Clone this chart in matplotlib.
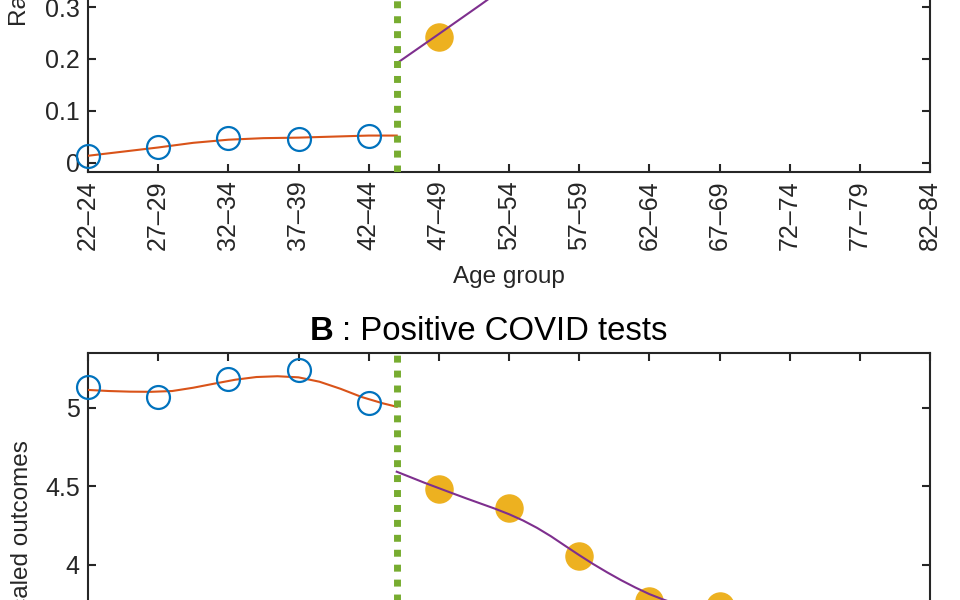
import numpy as np
import matplotlib
matplotlib.use('Agg')
import matplotlib.pyplot as plt

plt.rcParams['font.family'] = ['Liberation Sans', 'DejaVu Sans']

# age groups (tick positions = midpoints)
age_labels = ['22–24', '27–29', '32–34', '37–39', '42–44', '47–49', '52–54',
              '57–59', '62–64', '67–69', '72–74', '77–79', '82–84']
age_mid = [23, 28, 33, 38, 43, 48, 53, 58, 63, 68, 73, 78, 83]
cutoff = 45

# panel A (top)
a_below_x = [23, 28, 33, 38, 43]
a_below_y = [0.013, 0.030, 0.048, 0.045, 0.052]
a_above_x = [48]
a_above_y = [0.243]
a_fit_below_x = [23, 25.5, 28, 30.5, 33, 35.5, 38, 40.5, 43, 45]
a_fit_below_y = [0.013, 0.021, 0.029, 0.038, 0.044, 0.047, 0.048, 0.050, 0.052, 0.052]
a_fit_above_x = [45, 48, 51, 55]
a_fit_above_y = [0.1915, 0.248, 0.305, 0.383]

# panel B (bottom)
b_below_x = [23, 28, 33, 38, 43]
b_below_y = [5.130, 5.070, 5.182, 5.240, 5.032]
b_above_x = [48, 53, 58, 63, 68]
b_above_y = [4.481, 4.360, 4.057, 3.77, 3.74]
b_fit_below_x = [23, 24.5, 26, 27.5, 29, 30.5, 32, 33.5, 35, 36.5, 38, 39.5, 41, 42.5, 44, 45]
b_fit_below_y = [5.113, 5.106, 5.102, 5.101, 5.106, 5.127, 5.153, 5.178, 5.195, 5.200,
                 5.193, 5.165, 5.120, 5.068, 5.028, 5.006]
b_fit_above_x = [45, 47, 49, 50, 51, 52, 53, 54, 55, 56, 57, 58, 59, 60, 61, 62, 63, 64, 65, 68]
b_fit_above_y = [4.593, 4.522, 4.455, 4.422, 4.39, 4.358, 4.323, 4.283, 4.236, 4.182,
                 4.122, 4.063, 4.006, 3.953, 3.903, 3.857, 3.815, 3.78, 3.75, 3.69]

blue = '#0072BD'
orange = '#D95319'
yellow = '#EDB120'
purple = '#7E2F8E'
green = '#77AC30'
axcol = '#262626'

W, H = 960, 600
fig = plt.figure(figsize=(9.6, 6), dpi=100)


def px_axes(left, right, top, bottom):
    return [left / W, 1 - bottom / H, (right - left) / W, (bottom - top) / H]


def style(ax):
    for s in ax.spines.values():
        s.set_linewidth(1.5)
        s.set_color(axcol)
    ax.tick_params(direction='in', length=6, width=1.5, colors=axcol,
                   labelsize=18, top=True, right=True, pad=6)
    ax.set_xlim(23, 83)
    ax.set_xticks(age_mid)


def draw(ax, bx, by, ax_, ay, fbx, fby, fax, fay):
    ax.plot(fbx, fby, color=orange, lw=1.5, zorder=3)
    ax.plot(bx, by, 'o', ms=16.5, mfc='none', mec=blue, mew=1.6,
            clip_on=False, zorder=4)
    ax.plot(ax_, ay, 'o', ms=19.5, mfc=yellow, mec=yellow, clip_on=False, zorder=2)
    ax.plot(fax, fay, color=purple, lw=1.5, zorder=3)
    ax.axvline(cutoff, color=green, lw=5, linestyle=(0, (1, 1.15)),
               dash_capstyle='butt', zorder=5)


# top panel: 0 at y=162.5 px, 518 px per unit
ax1 = fig.add_axes(px_axes(88, 930, 162.5 - 0.4 * 518, 172))
style(ax1)
ax1.set_ylim(-(172 - 162.5) / 518, 0.4)
ax1.set_yticks([0, 0.1, 0.2, 0.3])
ax1.set_yticklabels(['0', '0.1', '0.2', '0.3'])
ax1.set_xticklabels(age_labels, rotation=90)
draw(ax1, a_below_x, a_below_y, a_above_x, a_above_y,
     a_fit_below_x, a_fit_below_y, a_fit_above_x, a_fit_above_y)

# bottom panel: 5 at y=407.7 px, 157.3 px per unit (lower part lies below the crop)
ax2 = fig.add_axes(px_axes(88, 930, 352.7, 407.7 + 1.5 * 157.3))
style(ax2)
ax2.set_ylim(3.5, 5 + (407.7 - 352.7) / 157.3)
ax2.set_yticks([4, 4.5, 5])
ax2.set_yticklabels(['4', '4.5', '5'])
ax2.tick_params(labelbottom=False)
draw(ax2, b_below_x, b_below_y, b_above_x, b_above_y,
     b_fit_below_x, b_fit_below_y, b_fit_above_x, b_fit_above_y)

# labels
fig.text(509 / W, 1 - 283 / H, 'Age group', ha='center', va='baseline',
         fontsize=17.5, color=axcol)
fig.text(20 / W, 1 - 26 / H, 'Raw outcomes', rotation=90, ha='center',
         va='bottom', fontsize=17.5, color=axcol)
fig.text(22 / W, 1 - 440 / H, 'Scaled outcomes', rotation=90, ha='center',
         va='top', fontsize=17.5, color=axcol)
fig.text(310 / W, 1 - 340 / H, 'B', fontsize=23.7, weight='bold',
         ha='left', va='baseline', color='black')
fig.text(342 / W, 1 - 340 / H, ': Positive COVID tests', fontsize=23.7,
         ha='left', va='baseline', color='black')

fig.savefig('out.png', dpi=100)
